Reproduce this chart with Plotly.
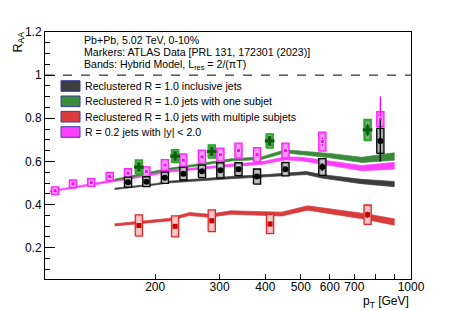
import plotly.graph_objects as go
import numpy as np

# ---------------- data ----------------
# ATLAS data points (pT [GeV], R_AA, stat, syst)
incl_pt = [168.6, 189.2, 212.6, 238.8, 268.5, 301.4, 337.8, 379.6, 453.9, 572.5, 824.6]
incl_raa = [0.504, 0.506, 0.524, 0.543, 0.554, 0.559, 0.564, 0.530, 0.564, 0.574, 0.695]
incl_stat = [0.008, 0.008, 0.008, 0.009, 0.009, 0.010, 0.010, 0.012, 0.012, 0.018, 0.095]
incl_syst = [0.023, 0.023, 0.026, 0.029, 0.029, 0.035, 0.030, 0.035, 0.031, 0.039, 0.058]

one_pt = [180.5, 226.7, 285.5, 411.0, 761.0]
one_raa = [0.574, 0.625, 0.646, 0.695, 0.746]
one_stat = [0.020, 0.020, 0.020, 0.022, 0.030]
one_syst = [0.033, 0.030, 0.031, 0.033, 0.049]

multi_pt = [180.5, 226.7, 285.5, 412.0, 761.0]
multi_raa = [0.303, 0.299, 0.325, 0.310, 0.353]
multi_stat = [0.010, 0.010, 0.010, 0.012, 0.015]
multi_syst = [0.049, 0.049, 0.050, 0.045, 0.045]

r02_pt = [106.5, 119.2, 133.8, 150.2, 168.6, 189.2, 212.6, 238.8, 268.5, 301.4, 337.8, 379.6, 453.9, 572.5, 824.6]
r02_raa = [0.464, 0.496, 0.502, 0.530, 0.546, 0.553, 0.583, 0.606, 0.621, 0.631, 0.650, 0.631, 0.650, 0.692, 0.796]
r02_stat = [0.004, 0.004, 0.004, 0.005, 0.005, 0.005, 0.006, 0.006, 0.007, 0.008, 0.009, 0.010, 0.012, 0.020, 0.105]
r02_syst = [0.018, 0.018, 0.018, 0.019, 0.020, 0.022, 0.025, 0.029, 0.031, 0.031, 0.035, 0.033, 0.035, 0.044, 0.035]

# Hybrid model bands (pT, centre, half-width)
band_incl_pt = [155, 200, 220, 322, 405, 453, 518, 570, 731, 900]
band_incl_c = [0.473, 0.494, 0.505, 0.525, 0.534, 0.540, 0.546, 0.531, 0.507, 0.495]
band_incl_w = [0.003, 0.003, 0.004, 0.005, 0.005, 0.006, 0.007, 0.008, 0.010, 0.012]

band_one_pt = [155, 220, 322, 390, 453, 502, 600, 734, 900]
band_one_c = [0.515, 0.565, 0.607, 0.615, 0.647, 0.641, 0.627, 0.607, 0.623]
band_one_w = [0.003, 0.004, 0.005, 0.006, 0.007, 0.008, 0.010, 0.012, 0.017]

band_multi_pt = [155, 218, 248, 281, 322, 443, 522, 607, 750, 900]
band_multi_c = [0.306, 0.330, 0.356, 0.348, 0.363, 0.356, 0.384, 0.368, 0.345, 0.319]
band_multi_w = [0.005, 0.006, 0.007, 0.007, 0.008, 0.009, 0.010, 0.011, 0.013, 0.015]

band_r02_pt = [103, 168, 220, 322, 390, 453, 502, 600, 734, 900]
band_r02_c = [0.461, 0.520, 0.555, 0.582, 0.592, 0.614, 0.611, 0.592, 0.569, 0.580]
band_r02_w = [0.003, 0.004, 0.004, 0.005, 0.006, 0.007, 0.008, 0.010, 0.012, 0.016]

x_tickvals = [200, 300, 400, 500, 600, 700, 1000]
x_ticktext = ["200", "300", "400", "500", "600", "700", "1000"]
x_minor_tickvals = [100, 800, 900]
y_tickvals = [0.2, 0.4, 0.6, 0.8, 1.0, 1.2]
y_ticktext = ["0.2", "0.4", "0.6", "0.8", "1", "1.2"]

legend_labels = [
    "Reclustered R = 1.0 inclusive jets",
    "Reclustered R = 1.0 jets with one subjet",
    "Reclustered R = 1.0 jets with multiple subjets",
    "R = 0.2 jets with |y| < 2.0",
]
header_lines = [
    "Pb+Pb, 5.02 TeV, 0-10%",
    "Markers: ATLAS Data [PRL 131, 172301 (2023)]",
    "Bands: Hybrid Model, L<sub>res</sub> = 2/(πT)",
]

# ---------------- styles ----------------
BAND_COL = {"incl": "#3d3d3d", "one": "#3a8a3a", "multi": "#d83c3c", "r02": "#ff40ff"}
BOX_STYLE = {
    "incl": dict(line="#000000", fill="#a8a8a8"),
    "one": dict(line="#22aa22", fill="#4aa04a"),
    "multi": dict(line="#e02828", fill="#f2b4b4"),
    "r02": dict(line="#ff22ff", fill="#ff6cff"),
}
FONT = "Liberation Sans, Arial, sans-serif"
W, H = 457, 311
PL, PR, PT, PB = 45, 411, 32, 279
L, R, T, B = PL, W - PR, PT, H - PB
pw = PR - PL
ph = PB - PT
BOX_HALF = 3.6 / pw  # half-width of syst boxes in decades (x range = 1 decade)

fig = go.Figure()


def add_band(pt, c, w, col):
    pt = np.array(pt, float)
    c = np.array(c)
    w = np.array(w)
    xs = list(pt) + list(pt[::-1])
    ys = list(c + w) + list((c - w)[::-1])
    fig.add_trace(go.Scatter(x=xs, y=ys, mode="lines", fill="toself",
                             fillcolor=col, line=dict(color=col, width=0.7),
                             hoverinfo="skip", showlegend=False))


add_band(band_incl_pt, band_incl_c, band_incl_w, BAND_COL["incl"])
add_band(band_r02_pt, band_r02_c, band_r02_w, BAND_COL["r02"])
add_band(band_one_pt, band_one_c, band_one_w, BAND_COL["one"])
add_band(band_multi_pt, band_multi_c, band_multi_w, BAND_COL["multi"])


def add_boxes(pt, raa, syst, style):
    xs, ys = [], []
    for p, v, s in zip(pt, raa, syst):
        x0 = p * 10 ** (-BOX_HALF)
        x1 = p * 10 ** (BOX_HALF)
        xs += [x0, x1, x1, x0, x0, None]
        ys += [v - s, v - s, v + s, v + s, v - s, None]
    fig.add_trace(go.Scatter(x=xs, y=ys, mode="lines", fill="toself",
                             fillcolor=style["fill"], line=dict(color=style["line"], width=1.3),
                             hoverinfo="skip", showlegend=False))
    xs, ys = [], []
    for p, v, s in zip(pt, raa, syst):
        x0 = p * 10 ** (-BOX_HALF * 0.45)
        x1 = p * 10 ** (BOX_HALF * 0.45)
        xs += [x0, x1, x1, x0, x0, None]
        ys += [v - s * 0.8, v - s * 0.8, v + s * 0.8, v + s * 0.8, v - s * 0.8, None]
    fig.add_trace(go.Scatter(x=xs, y=ys, mode="lines", fill="toself",
                             fillcolor="rgba(255,255,255,0.35)", line=dict(width=0),
                             hoverinfo="skip", showlegend=False))


add_boxes(r02_pt, r02_raa, r02_syst, BOX_STYLE["r02"])
add_boxes(one_pt, one_raa, one_syst, BOX_STYLE["one"])
add_boxes(incl_pt, incl_raa, incl_syst, BOX_STYLE["incl"])
add_boxes(multi_pt, multi_raa, multi_syst, BOX_STYLE["multi"])

fig.add_trace(go.Scatter(x=r02_pt, y=r02_raa, mode="markers",
                         marker=dict(symbol="square", size=4, color="#ff00ff",
                                     line=dict(color="#ffb0ff", width=1)),
                         error_y=dict(type="data", array=r02_stat, color="#ff00ff",
                                      thickness=1.3, width=0),
                         hoverinfo="skip", showlegend=False))
fig.add_trace(go.Scatter(x=one_pt, y=one_raa, mode="markers",
                         marker=dict(symbol="cross", size=8, color="#0b5e0b"),
                         error_y=dict(type="data", array=one_stat, color="#0b5e0b",
                                      thickness=1.5, width=0),
                         hoverinfo="skip", showlegend=False))
fig.add_trace(go.Scatter(x=incl_pt, y=incl_raa, mode="markers",
                         marker=dict(symbol="circle", size=6, color="#000000"),
                         error_y=dict(type="data", array=incl_stat, color="#000000",
                                      thickness=1.5, width=0),
                         hoverinfo="skip", showlegend=False))
fig.add_trace(go.Scatter(x=multi_pt, y=multi_raa, mode="markers",
                         marker=dict(symbol="square", size=5, color="#cc0000"),
                         error_y=dict(type="data", array=multi_stat, color="#cc0000",
                                      thickness=1.3, width=0),
                         hoverinfo="skip", showlegend=False))


def xp(px):
    return (px - PL) / pw


def yp(py):
    return (PB - py) / ph


shapes = [dict(type="line", xref="paper", yref="y", x0=0, x1=1, y0=1, y1=1,
               line=dict(color="black", width=1, dash="dash"))]
annotations = []

for txt, py in zip(header_lines, [40, 52.5, 64.5]):
    annotations.append(dict(text=txt, xref="paper", yref="paper", x=xp(82), y=yp(py),
                            xanchor="left", yanchor="middle", showarrow=False,
                            font=dict(family=FONT, size=10.6, color="black")))

leg_cols = [BAND_COL["incl"], BAND_COL["one"], BAND_COL["multi"], BAND_COL["r02"]]
for lab, col, py in zip(legend_labels, leg_cols, [86, 101.3, 116.7, 132]):
    shapes.append(dict(type="rect", xref="paper", yref="paper",
                       x0=xp(61), x1=xp(80), y0=yp(py + 5.3), y1=yp(py - 5.3),
                       fillcolor=col, line=dict(color="#3a3aa8", width=1)))
    annotations.append(dict(text=lab, xref="paper", yref="paper", x=xp(83), y=yp(py),
                            xanchor="left", yanchor="middle", showarrow=False,
                            font=dict(family=FONT, size=10.6, color="black")))

annotations.append(dict(text="R<sub>AA</sub>", xref="paper", yref="paper",
                        x=xp(18.5), y=yp(42), xanchor="center", yanchor="middle",
                        textangle=-90, showarrow=False,
                        font=dict(family=FONT, size=12.5, color="black")))
annotations.append(dict(text="p<sub>T</sub> [GeV]", xref="paper", yref="paper",
                        x=xp(411), y=yp(302), xanchor="right", yanchor="middle",
                        showarrow=False, font=dict(family=FONT, size=12, color="black")))

fig.update_layout(
    width=W, height=H,
    margin=dict(l=L, r=R, t=T, b=B, pad=0, autoexpand=False),
    paper_bgcolor="white", plot_bgcolor="white",
    shapes=shapes, annotations=annotations,
    showlegend=False, hovermode=False,
    font=dict(family=FONT, size=12, color="black"),
)
fig.update_xaxes(type="log", range=[2, 3], showgrid=False, zeroline=False,
                 showline=True, linecolor="black", linewidth=1, mirror=True,
                 ticks="inside", ticklen=5, tickcolor="black",
                 tickmode="array", tickvals=x_tickvals, ticktext=x_ticktext,
                 ticklabelstandoff=-3,
                 minor=dict(tickmode="array", tickvals=x_minor_tickvals, ticks="inside",
                            ticklen=5, tickcolor="black"),
                 tickfont=dict(family=FONT, size=12, color="black"))
fig.update_yaxes(range=[0.055, 1.2], showgrid=False, zeroline=False,
                 showline=True, linecolor="black", linewidth=1, mirror=True,
                 ticks="inside", ticklen=10, tickcolor="black",
                 tickvals=y_tickvals, ticktext=y_ticktext,
                 minor=dict(ticks="inside", ticklen=5, dtick=0.05, tick0=0, tickcolor="black"),
                 tickfont=dict(family=FONT, size=12, color="black"))

# remove the default page margin so the figure fills the window exactly
fig.write_html("out.html",
               config={"displayModeBar": False, "staticPlot": True},
               post_script="document.body.style.margin='0';"
                           "document.body.style.overflow='hidden';")
